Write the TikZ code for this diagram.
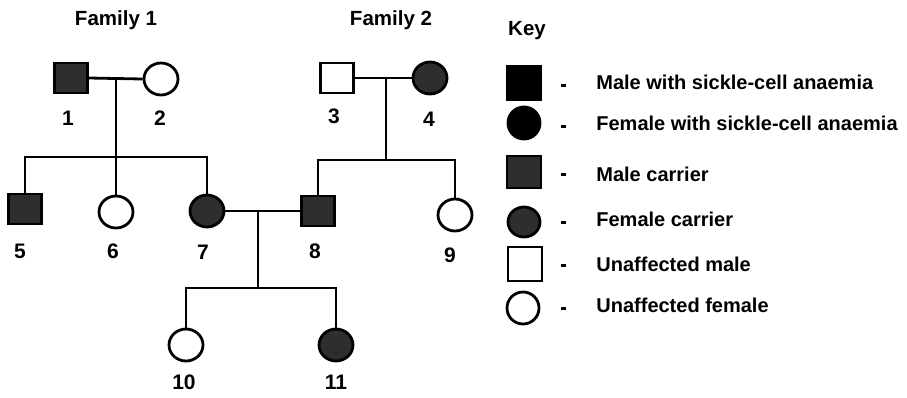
\documentclass[tikz,border=0pt]{standalone}
\usepackage{fontspec}
\setmainfont{Liberation Sans}
\usetikzlibrary{shapes.geometric}
\begin{document}
\begin{tikzpicture}[x=1pt,y=-1pt,
  line width=2.8pt,
  male/.style={draw=black,rectangle,minimum width=33pt,minimum height=30pt,inner sep=0pt},
  female/.style={draw=black,ellipse,minimum width=34pt,minimum height=32pt,inner sep=0pt},
  affected/.style={fill=black},
  carrier/.style={fill=black!82},
  plain/.style={fill=white},
  num/.style={font=\fontsize{21}{24}\selectfont\bfseries,inner sep=0pt},
  title/.style={font=\fontsize{20.5}{24}\selectfont\bfseries,inner sep=0pt},
  keytext/.style={font=\fontsize{20}{24}\selectfont\bfseries,anchor=base west,inner sep=0pt},
  keydash/.style={line width=3pt},
  link/.style={line width=2.8pt}]
\useasboundingbox (0,0) rectangle (907,397);
\fill[white] (0,0) rectangle (907,397);

% titles
\node[title] (t1) at (116,20) {Family 1};
\node[title] (t2) at (391,20) {Family 2};
\node[title] (tk) at (527,31) {Key};

% generation I
\node[male,carrier]   (n1) at (71,78) {};
\node[female,plain]   (n2) at (161,79) {};
\node[male,plain]     (n3) at (337,78) {};
\node[female,carrier] (n4) at (430,78) {};

% generation II
\node[male,carrier]   (n5) at (25,209) {};
\node[female,plain]   (n6) at (116,212) {};
\node[female,carrier] (n7) at (207,211) {};
\node[male,carrier]   (n8) at (318,211) {};
\node[female,plain]   (n9) at (455,215) {};

% generation III
\node[female,plain]   (n10) at (186,345) {};
\node[female,carrier] (n11) at (336,345) {};

% labels
\node[num] (l1) at (68,118) {1};
\node[num] (l2) at (160,118) {2};
\node[num] (l3) at (334,116) {3};
\node[num] (l4) at (429,119) {4};
\node[num] (l5) at (20,251) {5};
\node[num] (l6) at (113,251) {6};
\node[num] (l7) at (203,252) {7};
\node[num] (l8) at (315,251) {8};
\node[num] (l9) at (450,255) {9};
\node[num] (l10) at (184,382) {10};
\node[num] (l11) at (336,382) {11};

% connectors family 1
\coordinate (m12) at (116,78);
\coordinate (s12) at (116,157);
\draw[link] (n1.east) -- (n2.west);
\draw[link] (m12) -- (s12);
\draw[link] (n5.north) |- (s12) -| (n7.north);
\draw[link] (s12) -- (n6.north);

% connectors family 2
\coordinate (m34) at (386,78);
\coordinate (s34) at (386,160);
\draw[link] (n3.east) -- (n4.west);
\draw[link] (m34) -- (s34);
\draw[link] (n8.north) |- (s34) -| (n9.north);

% connectors 7 x 8
\coordinate (m78) at (258,211);
\coordinate (s78) at (258,288);
\draw[link] (n7.east) -- (n8.west);
\draw[link] (m78) -- (s78);
\draw[link] (n10.north) |- (s78) -| (n11.north);

% key
\node[male,affected,minimum width=33pt,minimum height=33pt]   (k1) at (524,83) {};
\node[female,affected,minimum width=32pt,minimum height=32pt] (k2) at (524,123) {};
\node[male,carrier,minimum width=34pt,minimum height=32pt]    (k3) at (524,172) {};
\node[female,carrier,minimum width=32pt,minimum height=30pt]  (k4) at (524,222) {};
\node[male,plain,minimum width=34pt,minimum height=34pt]      (k5) at (525,264) {};
\node[female,plain,minimum width=32pt,minimum height=32pt]    (k6) at (523,308) {};

\foreach \y in {85,126,174,222,265,308}{
  \draw[keydash] (561,\y) -- (566,\y);
}
\node[keytext] (kt1) at (595,89) {Male with sickle-cell anaemia};
\node[keytext] (kt2) at (595,130) {Female with sickle-cell anaemia};
\node[keytext] (kt3) at (595,181) {Male carrier};
\node[keytext] (kt4) at (595,226) {Female carrier};
\node[keytext] (kt5) at (595,271) {Unaffected male};
\node[keytext] (kt6) at (595,312) {Unaffected female};
\end{tikzpicture}
\end{document}
